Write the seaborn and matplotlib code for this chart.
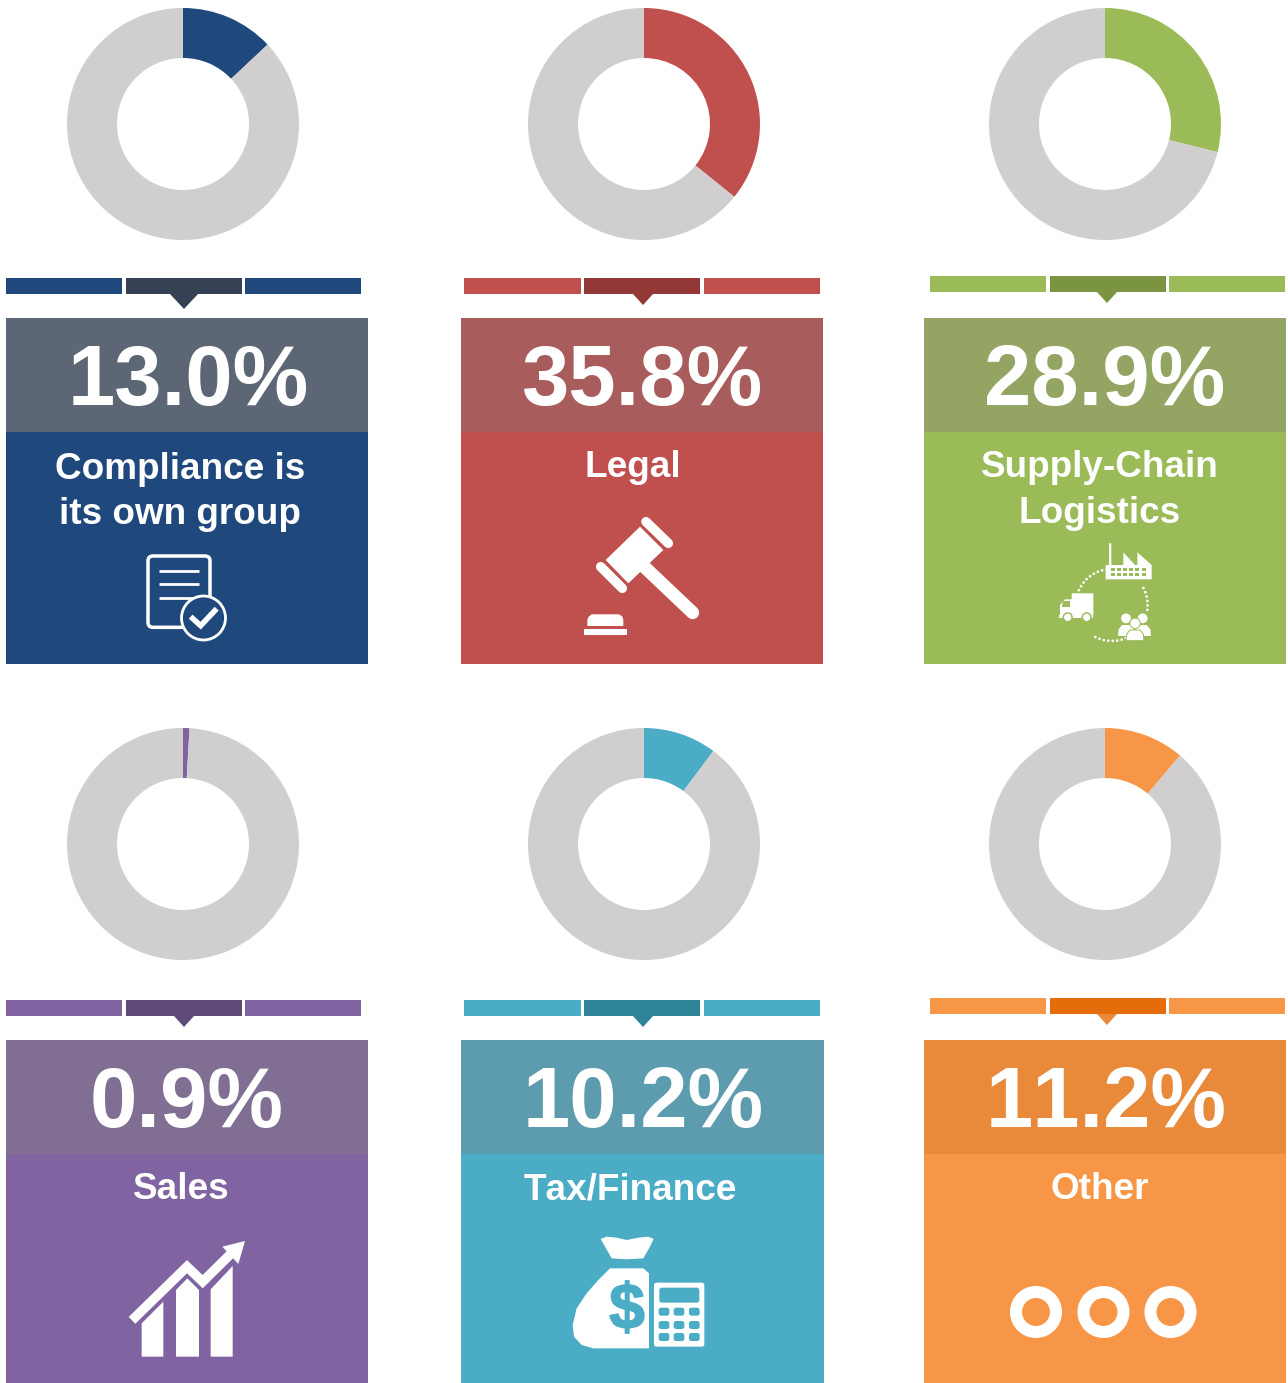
import matplotlib
matplotlib.use("Agg")
import matplotlib.pyplot as plt
import matplotlib.patheffects as pe
import numpy as np
import seaborn as sns
from matplotlib.patches import Circle, FancyBboxPatch, Polygon, Rectangle, Arc

sns.set_theme(style="white")
plt.rcParams['font.family'] = ['Liberation Sans', 'DejaVu Sans']
plt.rcParams['text.kerning_factor'] = 16  # the reference has no kerning, see 11.2%

# values
groups = ["Compliance is\nits own group", "Legal", "Supply-Chain\nLogistics", "Sales", "Tax/Finance", "Other"]
shares = [13.0, 35.8, 28.9, 0.9, 10.2, 11.2]
value_labels = ["13.0%", "35.8%", "28.9%", "0.9%", "10.2%", "11.2%"]

# colours
body_colors = sns.color_palette(["#1f497d", "#c0504d", "#9bbb59", "#8064a2", "#4bacc6", "#f79646"])
head_colors = ["#5c6675", "#a85c5c", "#94a563", "#806f92", "#5d9bae", "#e88a3a"]
mid_colors = ["#364156", "#943737", "#7a9440", "#5f4b7a", "#2e8399", "#e46c0a"]
tip_colors = ["#364156", "#943737", "#7a9440", "#5f4b7a", "#2e8399", "#e88a3a"]
ring_grey = "#d0cece"

# layout, all in pixels of the picture
W, H = 1288, 1383
donut_x = [183, 644, 1105, 183, 644, 1105]
donut_y = [124, 124, 124, 844, 844, 844]
panel_x = [6, 461, 924, 6, 461, 924]
panel_top = [318, 318, 318, 1040, 1040, 1040]
panel_bottom = [664, 664, 664, 1383, 1383, 1383]
strip_x = [6, 464.5, 930, 6, 464.5, 930]
strip_top = [278, 278, 276, 1000, 1000, 998]
tip_x = [184, 643, 1107, 184, 643, 1107]
tip_h = [15, 11, 11, 11, 11, 11]
tip_w = [14, 10, 10, 10, 10, 10]
value_x = [188, 642, 1105, 187, 643, 1106]
label_x = [180, 633, 1100, 181, 630, 1100]
PANEL_W, HEAD_H = 362, 114
px = 0.72  # one pixel in points

fig = plt.figure(figsize=(W / 100, H / 100), dpi=100, facecolor="white")
ax = fig.add_axes([0, 0, 1, 1])
ax.set_xlim(0, W)
ax.set_ylim(H, 0)
ax.axis("off")
sns.despine(ax=ax, left=True, bottom=True)


def zoomed(points, ox, oy):
    return [(ox + x / 3, oy + y / 3) for x, y in points]


def poly(points, ox, oy, color="white", z=5, ec="none", lw=0):
    ax.add_patch(Polygon(zoomed(points, ox, oy), closed=True, fc=color, ec=ec, lw=lw * px, zorder=z))


def stroke(points, ox, oy, width, color="white", cap="round", z=5):
    pts = np.array(zoomed(points, ox, oy))
    ax.plot(pts[:, 0], pts[:, 1], color=color, lw=width * px, solid_capstyle=cap,
            solid_joinstyle="miter", zorder=z)


def rbox(x0, y0, x1, y1, r, ox, oy, fc="white", ec="none", lw=0, z=5):
    a, b = (ox + x0 / 3, oy + y0 / 3), (ox + x1 / 3, oy + y1 / 3)
    ax.add_patch(FancyBboxPatch((a[0] + r, a[1] + r), b[0] - a[0] - 2 * r, b[1] - a[1] - 2 * r,
                                boxstyle=f"round,pad={r},rounding_size={r}",
                                fc=fc, ec=ec, lw=lw * px, zorder=z))


def icon_document(c):
    ox, oy = 0, 270
    rbox(444, 858, 630, 1072, 5, ox, oy, fc=c, ec="white", lw=3.5)
    for y in [903, 943, 983]:
        stroke([(478, y), (598, y)], ox, oy, 2.8, cap="butt")
    ax.add_patch(Circle((203.5, 618), 22, fc=c, ec="white", lw=2.8 * px, zorder=6))
    stroke([(572, 1040), (602, 1067), (650, 1016)], ox, oy, 5.5, cap="butt", z=7)


def icon_gavel(c):
    ox, oy = 560, 500
    poly([(240, 80), (310, 150), (205, 250), (137, 180)], ox, oy)
    stroke([(258, 65), (325, 130)], ox, oy, 9.5)
    stroke([(122, 200), (187, 265)], ox, oy, 9.5)
    stroke([(245, 193), (398, 338)], ox, oy, 13)
    poly([(82, 378), (82, 360), (86, 350), (95, 343), (178, 343), (187, 350), (190, 360), (190, 378)], ox, oy)
    poly([(73, 387), (202, 387), (202, 406), (73, 406)], ox, oy)


def icon_supply(c):
    ox, oy = 1040, 530
    poly([(207, 40), (214, 40), (214, 105), (250, 105), (250, 67), (285, 105), (292, 105),
          (292, 67), (335, 105), (335, 148), (197, 148), (197, 105), (207, 105)], ox, oy)
    for y in [118, 134]:
        for x in [218, 236, 254, 272, 292, 312]:
            poly([(x - 6, y - 5), (x + 6, y - 5), (x + 6, y + 5), (x - 6, y + 5)], ox, oy, color=c, z=6)
    # dotted loop around the three pictograms
    for t1, t2 in [(190, 262), (-28, 8), (38, 118)]:
        ax.add_patch(Arc((1040 + 215 / 3, 530 + 225 / 3), 2 * 108 / 3, 2 * 108 / 3, theta1=t1, theta2=t2,
                         ec="white", lw=2.8 * px, ls=(0, (0.01, 1.6)), capstyle="round", zorder=5))
    poly([(95, 190), (160, 190), (160, 255), (60, 255), (60, 225), (75, 208), (95, 208)], ox, oy)
    poly([(56, 255), (160, 255), (160, 265), (56, 265)], ox, oy)
    poly([(70, 214), (90, 214), (90, 230), (66, 230)], ox, oy, color=c, z=6)
    for x in [83, 140]:
        ax.add_patch(Circle((ox + x / 3, oy + 262 / 3), 4.4, fc="white", ec=c, lw=1.5 * px, zorder=6))
    # three people, the middle one in front
    for x, y in [(258, 265), (308, 265)]:
        ax.add_patch(Circle((ox + x / 3, oy + y / 3), 4.9, fc="white", ec="none", zorder=5))
    poly([(234, 318), (236, 298), (246, 285), (270, 285), (282, 298), (282, 318)], ox, oy)
    poly([(286, 318), (286, 298), (296, 285), (320, 285), (331, 298), (333, 318)], ox, oy)
    poly([(258, 332), (260, 312), (270, 300), (300, 300), (310, 312), (312, 332)], ox, oy, z=7, ec=c, lw=1)
    ax.add_patch(Circle((ox + 285 / 3, oy + 280 / 3), 5.2, fc="white", ec=c, lw=1 * px, zorder=8))


def icon_chart(c):
    ox, oy = 110, 1230
    poly([(95, 280), (160, 215), (160, 380), (95, 380)], ox, oy)
    poly([(198, 180), (232, 145), (267, 180), (267, 380), (198, 380)], ox, oy)
    poly([(302, 178), (368, 108), (368, 380), (302, 380)], ox, oy)
    stroke([(66, 271), (231, 110), (278, 155), (362, 72)], ox, oy, 9.5, cap="butt", z=6)
    poly([(405, 33), (337, 50), (385, 102)], ox, oy, z=6)


def icon_money(c):
    ox, oy = 560, 1225
    poly([(122, 42), (140, 35), (170, 38), (200, 45), (235, 38), (265, 35), (281, 42), (270, 65),
          (250, 100), (200, 103), (155, 100), (135, 65)], ox, oy)
    poly([(150, 130), (250, 130), (267, 145), (267, 370), (100, 370), (65, 360), (42, 335), (38, 300),
          (50, 250), (80, 205), (115, 165)], ox, oy)
    dollar = ax.text(ox + 201 / 3, oy + 259 / 3, "$", color=c, fontsize=46, fontweight="bold",
                     ha="center", va="center", zorder=6)
    dollar.set_path_effects([pe.withStroke(linewidth=1.2, foreground=c)])
    rbox(282, 173, 433, 365, 2.5, ox, oy)
    rbox(298, 188, 418, 233, 2.5, ox, oy, fc=c, z=6)
    for y in [260, 300, 336]:
        for x in [312, 357, 403]:
            rbox(x - 16, y - 12, x + 16, y + 12, 2.5, ox, oy, fc=c, z=6)


def icon_dots(c):
    for x in [1036, 1103.5, 1170.5]:
        ax.add_patch(Circle((x, 1312), 20, fc="none", ec="white", lw=12 * px, zorder=5))


icons = [icon_document, icon_gavel, icon_supply, icon_chart, icon_money, icon_dots]

for i in range(6):
    c = body_colors[i]
    x0, top, bottom = panel_x[i], panel_top[i], panel_bottom[i]

    # donut
    r = 116
    dax = fig.add_axes([(donut_x[i] - r) / W, 1 - (donut_y[i] + r) / H, 2 * r / W, 2 * r / H])
    dax.pie([shares[i], 100 - shares[i]], colors=[c, ring_grey], startangle=90, counterclock=False,
            radius=1, wedgeprops=dict(width=50 / 116, edgecolor="none"))
    dax.set_xlim(-1, 1)
    dax.set_ylim(-1, 1)
    dax.axis("off")

    # three-part strip with a pointer
    sx, sy = strip_x[i], strip_top[i]
    for j, col in enumerate([c, mid_colors[i], c]):
        ax.add_patch(Rectangle((sx + j * 119.6, sy), 116.3, 16, fc=col, ec="none"))
    ty, tw, th = sy + 16, tip_w[i], tip_h[i]
    ax.add_patch(Polygon([(tip_x[i] - tw, ty), (tip_x[i] + tw, ty), (tip_x[i], ty + th)], fc=tip_colors[i], ec="none"))

    # panel
    ax.add_patch(Rectangle((x0, top), PANEL_W + (1 if i == 4 else 0), bottom - top, fc=c, ec="none"))
    ax.add_patch(Rectangle((x0, top), PANEL_W + (1 if i == 4 else 0), HEAD_H, fc=head_colors[i], ec="none", zorder=2))

    ax.text(value_x[i], top + 87, value_labels[i], color="white", fontsize=61.2, fontweight="bold",
            ha="center", va="baseline", zorder=3)
    for k, line in enumerate(groups[i].split("\n")):
        base = top + 161 if i == 0 else top + 159
        step = 45 if i == 0 else 46
        ax.text(label_x[i], base + k * step, line, color="white", fontsize=26.6, fontweight="bold",
                ha="center", va="baseline", zorder=3)
    icons[i](c)

fig.savefig("out.png", dpi=100, facecolor="white")
